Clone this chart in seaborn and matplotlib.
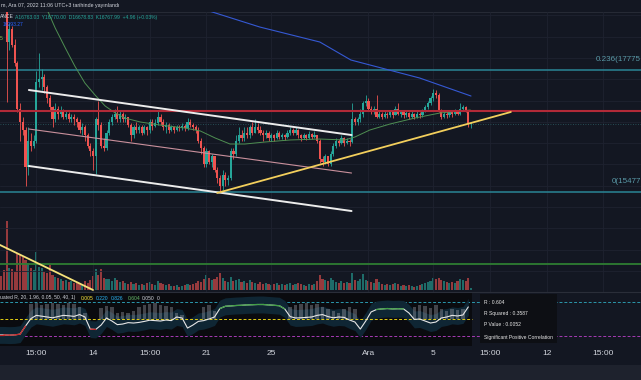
import numpy as np
import pandas as pd
import matplotlib
matplotlib.use("Agg")
import matplotlib.pyplot as plt
import matplotlib.dates as mdates
from matplotlib.patches import Rectangle
from matplotlib.lines import Line2D
import seaborn as sns

# 4h candles (UTC+3), 2022-11-08 07:00 .. 2022-12-07 11:00
first_open = 19900
close = [19700, 19450, 19150, 18300, 18550,
         18250, 17900, 17050, 16800, 16650, 15950,
         16450, 16350, 16450, 17550, 17600, 17650,
         17450, 17250, 17080, 16850, 17050, 16950,
         17000, 16900, 16950, 16850, 16900, 16850,
         16800, 16650, 16700, 16550, 16350, 16250,
         16150, 16850, 16750, 16350, 16300, 16600,
         16800, 16900, 16950, 16850, 16950, 16850,
         16900, 16750, 16550, 16700, 16650, 16700,
         16600, 16700, 16650, 16800, 16720, 16780,
         16900, 16800, 16700, 16750, 16650, 16700,
         16650, 16700, 16680, 16720, 16680, 16800,
         16750, 16700, 16650, 16450, 16300, 16000,
         16250, 16050, 16150, 15900, 15750, 15600,
         15800, 15700, 15750, 16250, 16200, 16450,
         16550, 16500, 16600, 16550, 16700, 16600,
         16700, 16650, 16600, 16550, 16600, 16500,
         16550, 16500, 16600, 16520, 16560, 16520,
         16600, 16650, 16600, 16650, 16550, 16500,
         16550, 16500, 16580, 16520, 16560, 16450,
         16100, 16050, 16150, 16000, 16200, 16350,
         16450, 16400, 16500, 16400, 16450, 16420,
         16850, 16800, 16850, 16950, 17150, 17200,
         17050, 17000, 17050, 16900, 16950, 16900,
         16950, 16920, 16980, 16930, 17050, 16950,
         16980, 16920, 16960, 16900, 16950, 16900,
         16950, 16920, 17000, 17080, 17150, 17250,
         17350, 17300, 17000, 16900, 16950, 16920,
         16980, 16950, 17000, 16950, 17050, 17080,
         17000, 16763, 16768]
high = [20100, 19900, 19700, 19300, 18650,
        18600, 18350, 17950, 17150, 16900, 16700,
        16700, 16600, 16550, 17750, 18100, 17800,
        17700, 17500, 17300, 17100, 17150, 17100,
        17100, 17050, 17000, 16980, 16950, 16950,
        16900, 16850, 16780, 16750, 16600, 16400,
        16300, 16900, 17200, 16800, 16500, 16650,
        16850, 16950, 17050, 17100, 17000, 16980,
        16950, 16900, 16780, 16750, 16800, 16750,
        16750, 16750, 16720, 16850, 16850, 16850,
        17030, 16950, 16850, 16800, 16780, 16750,
        16720, 16750, 16750, 16780, 16760, 16880,
        16850, 16780, 16750, 16700, 16500, 16350,
        16300, 16280, 16200, 16150, 15950, 15800,
        15900, 15850, 15800, 16300, 16300, 16550,
        16700, 16650, 16700, 16700, 16750, 16800,
        16850, 16780, 16720, 16650, 16650, 16620,
        16600, 16580, 16650, 16620, 16600, 16580,
        16650, 16700, 16680, 16700, 16660, 16580,
        16600, 16580, 16620, 16600, 16620, 16560,
        16480, 16150, 16200, 16150, 16250, 16400,
        16500, 16480, 16550, 16520, 16500, 16480,
        17150, 16900, 16900, 17050, 17200, 17300,
        17250, 17100, 17100, 17300, 17000, 16980,
        17000, 16990, 17020, 17000, 17100, 17150,
        17000, 17000, 17000, 16980, 17000, 16970,
        17000, 16980, 17050, 17120, 17200, 17280,
        17420, 17400, 17350, 17050, 17000, 17000,
        17020, 17000, 17050, 17020, 17150, 17120,
        17100, 17030, 16770]
low = [19500, 19300, 18950, 17170, 18150,
       18200, 17850, 16980, 16450, 16550, 15600,
       15800, 16250, 16300, 16400, 17450, 17400,
       17350, 17150, 17000, 16700, 16800, 16850,
       16900, 16850, 16850, 16800, 16800, 16750,
       16700, 16600, 16550, 16450, 16300, 16150,
       15900, 15820, 16650, 16300, 16250, 16280,
       16550, 16750, 16850, 16800, 16800, 16800,
       16800, 16700, 16450, 16500, 16600, 16600,
       16550, 16580, 16550, 16600, 16650, 16700,
       16750, 16750, 16650, 16600, 16600, 16620,
       16600, 16620, 16620, 16650, 16620, 16650,
       16700, 16650, 16600, 16400, 16200, 15950,
       15950, 16000, 15950, 15850, 15650, 15480,
       15520, 15600, 15620, 15700, 16100, 16150,
       16400, 16450, 16450, 16500, 16500, 16550,
       16600, 16600, 16550, 16450, 16500, 16450,
       16450, 16450, 16480, 16480, 16480, 16460,
       16500, 16550, 16560, 16550, 16500, 16450,
       16480, 16460, 16480, 16480, 16500, 16400,
       16020, 15980, 16000, 15980, 15970, 16150,
       16300, 16350, 16380, 16350, 16380, 16350,
       16400, 16750, 16750, 16800, 16900, 17100,
       17000, 16950, 16950, 16880, 16880, 16850,
       16880, 16870, 16900, 16880, 16920, 16920,
       16900, 16880, 16900, 16850, 16880, 16860,
       16880, 16880, 16900, 16980, 17050, 17120,
       17200, 17250, 16980, 16850, 16870, 16880,
       16900, 16900, 16920, 16920, 16930, 17000,
       16980, 16700, 16679]
volume = [26, 28, 40, 138, 44,
          42, 36, 72, 70, 66, 60,
          54, 44, 40, 76, 46, 44,
          36, 34, 50, 30, 26, 24,
          22, 18, 20, 16, 18, 14,
          16, 14, 12, 18, 14, 20,
          28, 42, 30, 42, 24, 22,
          22, 18, 24, 20, 16, 18,
          14, 12, 16, 12, 14, 10,
          12, 10, 14, 16, 12, 10,
          18, 14, 12, 10, 12, 8,
          8, 10, 6, 8, 10, 12,
          10, 12, 14, 18, 16, 22,
          30, 24, 20, 22, 26, 34,
          24, 18, 16, 26, 18, 20,
          22, 16, 18, 14, 20, 16,
          14, 12, 16, 12, 14, 12,
          10, 12, 14, 10, 12, 10,
          12, 14, 10, 12, 14, 12,
          10, 8, 12, 10, 12, 18,
          30, 22, 20, 18, 24, 20,
          16, 14, 18, 14, 16, 14,
          34, 20, 18, 22, 32, 20,
          18, 16, 14, 22, 16, 12,
          10, 12, 10, 12, 14, 12,
          8, 10, 8, 10, 8, 6,
          8, 10, 12, 14, 16, 18,
          24, 22, 24, 20, 18, 16,
          14, 16, 14, 18, 22, 20,
          18, 24, 4]

# moving averages
ma_green_time = ["2022-11-11 04:00", "2022-11-11 19:00", "2022-11-12 10:00", "2022-11-13 00:00",
                 "2022-11-13 15:00", "2022-11-14 06:00", "2022-11-14 21:00", "2022-11-15 12:00",
                 "2022-11-16 02:00", "2022-11-17 01:00", "2022-11-18 06:00", "2022-11-19 19:00",
                 "2022-11-20 18:00", "2022-11-21 16:00", "2022-11-22 14:00", "2022-11-23 12:00",
                 "2022-11-24 18:00", "2022-11-26 07:00", "2022-11-28 03:00", "2022-11-29 16:00",
                 "2022-11-30 07:00", "2022-12-01 05:00", "2022-12-02 11:00", "2022-12-04 00:00",
                 "2022-12-05 13:00", "2022-12-07 10:00"]
ma_green = [18996, 18564, 18188, 17850, 17530, 17305, 17098, 16967, 16873, 16798, 16741, 16685,
            16629, 16497, 16384, 16384, 16422, 16460, 16478, 16460, 16516, 16647, 16760, 16873,
            16967, 17023]
ma_blue_time = ["2022-11-20 17:00", "2022-11-24 10:00", "2022-11-28 03:00", "2022-11-30 01:00",
                "2022-12-04 07:00", "2022-12-07 11:00"]
ma_blue = [18940, 18583, 18301, 17963, 17624, 17286]

# drawn trend lines (start, end)
chan_time = ["2022-11-10 04:00", "2022-11-30 02:00"]
chan_upper = [17399, 16553]
chan_mid = [16666, 15839]
chan_lower = [15971, 15125]
trend_time = ["2022-11-21 19:00", "2022-12-09 22:00"]
trend_price = [15464, 16986]
trend2_time = ["2022-11-07 18:00", "2022-11-14 03:00"]
trend2_price = [14580, 13641]

red_level = 17000
green_level = 14130
fib_levels = [17775, 15477]
fib_texts = ["0.236(17775", "0(15477"]

# rolling correlation indicator, 8h samples
corr = [-0.79, -0.79, -0.8, -0.79, -0.75, -0.35, 0.02, 0.18, 0.14, 0.1,
        0.06, 0.12, 0.18, 0.16, 0.13, 0.22, 0.1, -0.5, -0.52, -0.3,
        0.05, -0.1, -0.28, -0.25, -0.18, -0.2, -0.17, -0.12, -0.06, -0.08,
        -0.1, -0.05, -0.08, 0.1, 0.05, -0.45, -0.3, -0.12, -0.08, 0.0,
        0.1, 0.52, 0.63, 0.65, 0.67, 0.68, 0.7, 0.71, 0.72, 0.72,
        0.7, 0.68, 0.66, 0.5, 0.12, 0.05, 0.06, 0.08, 0.1, 0.18,
        0.22, 0.12, 0.06, 0.1, 0.08, -0.05, -0.15, -0.5, -0.1, 0.35,
        0.47, 0.5, 0.52, 0.5, 0.51, 0.5, 0.3, -0.02, 0.0, -0.1,
        -0.2, -0.15, 0.05, 0.1, 0.18, 0.15, 0.2, 0.6]
corr_hist = [0, 0, 0, 0, 0, 0,
             0.75, 0.8, 0.7, 0.72, 0.78, 0.75, 0.7, 0.8, 0.72, 0.6,
             0.3, 0, 0, 0.55, 0.65, 0.6,
             0.3, 0.35, 0.3, 0.4,
             0.6, 0.7, 0.75, 0.8, 0.7, 0.65, 0.6,
             0.3, 0.2, 0, 0, 0, 0.6, 0.7, 0.4,
             0, 0, 0, 0, 0, 0, 0, 0, 0, 0, 0, 0, 0,
             0.6, 0.7, 0.75, 0.8, 0.7, 0.75, 0.6, 0.5,
             0.4, 0.3, 0.5, 0.6, 0.5,
             0, 0, 0, 0, 0, 0, 0, 0, 0, 0,
             0.6, 0.7, 0.65, 0.55, 0.7, 0.5,
             0.4, 0.5, 0.45, 0.5, 0]
corr_levels = [0.826, 0.005, -0.826]

tick_times = ["2022-11-10 15:00", "2022-11-14 03:00", "2022-11-17 15:00", "2022-11-21 03:00",
              "2022-11-25 03:00", "2022-12-01 03:00", "2022-12-05 03:00", "2022-12-08 15:00",
              "2022-12-12 03:00", "2022-12-15 15:00"]
tick_labels = ["15:00", "14", "15:00", "21", "25", "Ara", "5", "15:00", "12", "15:00"]

BG = "#131722"
TEAL = "#26a69a"
RED = "#ef5350"
GRID = "#1e2230"
W, H = 641, 380

sns.set_style("dark")
plt.rcParams["font.family"] = ["Liberation Sans", "DejaVu Sans"]


def d(s):
    return mdates.date2num(pd.to_datetime(s))


def fx(px):
    return px / W


def fy(py):
    return 1 - py / H


fig = plt.figure(figsize=(W / 100, H / 100), dpi=100, facecolor=BG)
ax = fig.add_axes([0, fy(292), 1, 280 / H])
axv = ax.twinx()
axi = fig.add_axes([0, fy(346), 1, 54 / H], sharex=ax)

x_left, x_right = d("2022-11-08 09:13"), d("2022-12-17 22:50")
panel_end = d("2022-12-07 12:30")

t = mdates.date2num(pd.date_range("2022-11-08 07:00", periods=len(close), freq="4h"))
c = np.array(close, dtype=float)
o = np.concatenate([[first_open], c[:-1]])
colors = np.where(c >= o, TEAL, RED)

# volume underlay
axv.set_zorder(1)
ax.set_zorder(2)
ax.patch.set_alpha(0)
axv.patch.set_facecolor(BG)
axv.bar(t, volume, width=0.13, color=colors, alpha=0.6, linewidth=0)
axv.set_ylim(-4, 556)
axv.axis("off")

# grid
for p in range(13600, 19000, 400):
    ax.axhline(p, color=GRID, lw=0.6, zorder=0)
for tt in tick_times:
    ax.axvline(d(tt), color=GRID, lw=0.6, zorder=0)

# horizontal levels
for lv in fib_levels:
    ax.axhline(lv, color="#2a8595", lw=1.1, zorder=1)
ax.axhline(green_level, color="#2e7d32", lw=1.3, zorder=1)
ax.axhline(close[-1], color="#2c5f66", lw=0.6, ls=(0, (1, 2)), zorder=1)

# candles
ax.vlines(t, low, high, colors=colors, lw=0.6, zorder=3)
ax.bar(t, np.maximum(np.abs(c - o), 8), bottom=np.minimum(o, c), width=0.135,
       color=colors, linewidth=0, zorder=3)

# moving averages
sns.lineplot(x=d(ma_green_time), y=ma_green, ax=ax, color="#4f8f52", linewidth=0.7, zorder=4)
sns.lineplot(x=d(ma_blue_time), y=ma_blue, ax=ax, color="#3559d4", linewidth=0.8, zorder=4)

# drawings
ax.axhline(red_level, color="#b22a38", lw=1.5, zorder=5)
ax.plot(d(chan_time), chan_upper, color="#ececec", lw=1.4, zorder=6)
ax.plot(d(chan_time), chan_lower, color="#ececec", lw=1.4, zorder=6)
ax.plot(d(chan_time), chan_mid, color="#c9909c", lw=0.8, zorder=6)
ax.plot(d(trend_time), trend_price, color="#f3cf5c", lw=1.3, zorder=6)
ax.plot(d(trend2_time), trend2_price, color="#f5e27a", lw=1.3, zorder=6)

ax.set_xlim(x_left, x_right)
ax.set_ylim(13603, 18865)
ax.set_facecolor(BG)
ax.tick_params(left=False, bottom=False, labelleft=False, labelbottom=False, right=False, labelright=False)
for s in ax.spines.values():
    s.set_visible(False)

for lv, txt in zip(fib_levels, fib_texts):
    ax.text(x_right, lv + 130, txt, ha="right", va="bottom", fontsize=5.8, color="#5a9aa8", zorder=7)

# indicator pane
ct = mdates.date2num(pd.date_range("2022-11-08 07:00", periods=len(corr), freq="8h"))
v = np.array(corr)
axi.set_facecolor(BG)
axi.axvspan(x_left, panel_end, color="#0a0b0f", zorder=0, lw=0)
axi.axhline(corr_levels[0], color="#2b97ac", lw=0.7, ls=(0, (3, 2)), zorder=1)
axi.axhline(corr_levels[2], color="#a63bb5", lw=0.7, ls=(0, (3, 2)), zorder=1)
axi.fill_between(ct, v - 0.42, v + 0.42, color="#0f2634", lw=0, zorder=1.5)
axi.bar(ct, corr_hist, width=0.22, color="#9a9ca5", alpha=0.4, linewidth=0, zorder=2)
axi.hlines(corr_levels[1], x_left, panel_end, color="#e3cf12", lw=0.7, ls=(0, (3, 2)), zorder=2.5)
sns.lineplot(x=ct, y=v, ax=axi, color="#e6e6e6", linewidth=0.8, zorder=3)
for i in range(len(v) - 1):
    seg = v[i:i + 2]
    if seg.min() > 0.45:
        axi.plot(ct[i:i + 2], seg, color="#43a047", lw=0.9, zorder=4)
    elif seg.max() < -0.3:
        axi.plot(ct[i:i + 2], seg, color="#c62828", lw=0.9, zorder=4)
axi.set_ylim(-1.34, 1.34)
axi.set_xlim(x_left, x_right)
axi.set_xticks(d(tick_times))
axi.set_xticklabels(tick_labels, fontsize=6, color="#d1d4dc")
axi.tick_params(axis="x", length=0, pad=3)
axi.tick_params(axis="y", left=False, labelleft=False)
axi.set_xlabel("")
axi.set_ylabel("")
ax.set_xlabel("")
ax.set_ylabel("")
for s in axi.spines.values():
    s.set_visible(False)

# frame elements
fig.add_artist(Line2D([0, 1], [fy(12), fy(12)], transform=fig.transFigure, color="#2a2e39", lw=0.6))
fig.add_artist(Line2D([0, 1], [fy(292), fy(292)], transform=fig.transFigure, color="#2a2e39", lw=0.8))
fig.add_artist(Rectangle((0, 0), 1, fy(365), transform=fig.transFigure, color="#1e222d", lw=0))
fig.add_artist(Rectangle((fx(480), fy(343)), 77 / W, 49 / H, transform=fig.transFigure,
                         color="#0d0f14", lw=0))

# texts
fig.text(fx(1), fy(6), "m, Ara 07, 2022 11:06 UTC+3 tarihinde yayınlandı", fontsize=3.8,
         color="#d1d4dc", va="center")
fig.text(fx(0), fy(17), "ANCE", fontsize=3.6, color="#d1d4dc", va="center")
fig.text(fx(15), fy(17), "A16763.03  Y16770.00  D16678.83  K16767.99  +4.96 (+0.03%)",
         fontsize=3.6, color=TEAL, va="center")
fig.text(fx(3), fy(25), "16293.27", fontsize=3.6, color="#2962ff", va="center")
fig.text(fx(0), fy(38), "5", fontsize=3.6, color="#8bc34a", va="center")

fig.text(fx(0), fy(298), "uated R, 20, 1.96, 0.05, 50, 40, 1)", fontsize=3.6, color="#d1d4dc", va="center")
for px_, s, col in [(81, "0.005", "#ffeb3b"), (96, "0.220", "#29b6f6"), (111, "0.826", "#29b6f6"),
                    (128, "0.604", "#66bb6a"), (142, "0.050", "#d1d4dc"), (157, "0", "#d1d4dc")]:
    fig.text(fx(px_), fy(298), s, fontsize=3.6, color=col, va="center")

for py_, s in [(302, "R : 0.604"), (314, "R Squared : 0.3587"), (324, "P Value : 0.0052"),
               (337, "Significant Positive Correlation")]:
    fig.text(fx(484), fy(py_), s, fontsize=3.6, color="#e8e8e8", va="center")

fig.savefig("out.png", dpi=100, facecolor=BG)
